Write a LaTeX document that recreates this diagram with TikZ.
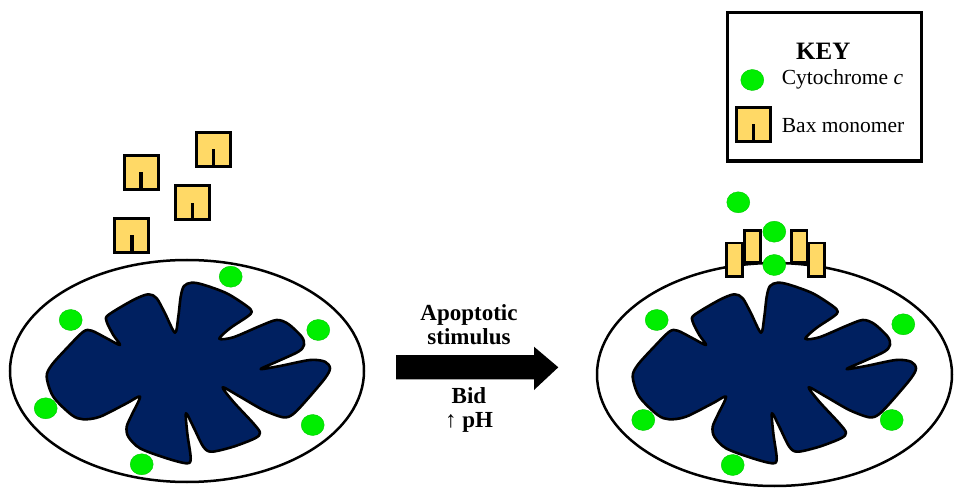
\documentclass[tikz,border=0pt]{standalone}
\usepackage{fontspec}
\setmainfont{Liberation Serif}
\usepackage{tikz}
\usetikzlibrary{calc,positioning}
\definecolor{matrixblue}{HTML}{002060}
\definecolor{cytgreen}{HTML}{00EE00}
\definecolor{baxyellow}{HTML}{FFD966}
\tikzstyle{membrane}    = [line width=2.5pt, draw=black, fill=white]
\tikzstyle{cristaefill} = [line width=2.6pt, draw=black, fill=matrixblue, line join=round]
\tikzstyle{cytc}        = [fill=cytgreen, draw=cytgreen!85!black, line width=0.4pt]
\tikzstyle{bax}         = [fill=baxyellow, draw=black, line width=2.8pt]
\tikzstyle{keytext}     = [font=\fontsize{21.5}{25}\selectfont, inner sep=0pt]
\tikzstyle{steptext}    = [font=\fontsize{23}{24}\selectfont\bfseries, align=center, inner sep=0pt]
% folded inner membrane
\newcommand{\cristae}{%
  \draw[cristaefill] plot[smooth cycle, tension=0.5] coordinates {
    (175,332.7) (178.3,316.7) (180.7,296.7) (184,286) (191.7,282.7) (203.3,284.7)
    (226.7,293.3) (246.7,306) (251.7,311.7) (247.3,316.7) (230,328.3) (219.3,338.7)
    (233.3,337.3) (260,326) (276.7,320) (288.3,324) (301.7,336.7) (304,345) (298.3,351.7)
    (276.7,361.7) (260.7,369)
    (280,366) (310,360) (325,361.7) (330,368.3) (325,378.3) (306.7,400) (293.3,414)
    (283.3,417.3) (263.3,410) (240,396.7) (222.7,387.3)
    (233.3,401.7) (253.3,423.3) (260,432.7) (255,438.3) (233.3,446.7) (211.7,451.7)
    (203.3,446.7) (193.3,426.7) (186,413.3)
    (187.3,433.3) (190.7,458.3) (186.7,463.3) (166.7,458.3) (140,448.3) (128.3,436.7)
    (126.7,426.7) (131.7,415) (140,396.7)
    (126.7,403.3) (100,416.7) (83.3,419.3) (71.7,415) (53.3,396.7) (46.7,376.7)
    (51.7,365) (66.7,348.3) (83.3,331.7) (91.7,330.7) (106.7,338.3) (120,345)
    (113.3,335) (106.7,321.7) (108.3,315) (133.3,300) (148.3,294.3) (156.7,298.3)
    (165,313.3)};}
% bax monomer, top left corner
\newcommand{\baxmono}[2]{%
  \draw[bax] (#1,#2) rectangle ++(34,34);
  \draw[line width=3.5pt] (#1+17,#2+34) -- ++(0,-17);}

\begin{document}
\begin{tikzpicture}[x=1pt,y=-1pt]
    \useasboundingbox (0,0) rectangle (954,489);

    % before
    \draw[membrane] (187,371) ellipse (177 and 111);
    \cristae
    \fill[cytc] (230.7,276.7) ellipse (11.5 and 10.5);
    \fill[cytc] (70.7,320) ellipse (11.5 and 10.5);
    \fill[cytc] (318.3,330) ellipse (11.5 and 10.5);
    \fill[cytc] (45.7,408.3) ellipse (11.5 and 10.5);
    \fill[cytc] (312.7,425) ellipse (11.5 and 10.5);
    \fill[cytc] (141.7,464.3) ellipse (11.5 and 10.5);

    \baxmono{124.2}{155.5}
    \baxmono{196.5}{132.2}
    \baxmono{175.5}{185.8}
    \baxmono{114.8}{218.5}

    % stimulus
    \fill (396,355) -- (534,355) -- (534,346.7) -- (558.3,367.3) -- (534,390) -- (534,379.3) -- (396,379.3) -- cycle;
    \node[steptext] (stim) at (469,325) {Apoptotic\\stimulus};
    \node[steptext] (bid) at (469,410) {Bid\\↑ pH};

    % after
    \draw[membrane] (774.5,374.5) ellipse (177.5 and 111.5);
    \begin{scope}[shift={(586,0)}]
        \cristae
    \end{scope}
    \draw[bax] (726.4,243.1) rectangle (742.6,276.9);
    \draw[bax] (744.7,230.7) rectangle (760.3,262.6);
    \draw[bax] (791.4,230.7) rectangle (806.9,262.6);
    \draw[bax] (808.7,243.1) rectangle (824.6,276.9);
    \fill[cytc] (738.3,202.3) ellipse (11.5 and 10.5);
    \fill[cytc] (774.3,231.7) ellipse (11.5 and 10.5);
    \fill[cytc] (774.3,265) ellipse (11.5 and 10.5);
    \fill[cytc] (656.7,320) ellipse (11.5 and 10.5);
    \fill[cytc] (903.3,324.3) ellipse (11.5 and 10.5);
    \fill[cytc] (643.3,420) ellipse (11.5 and 10.5);
    \fill[cytc] (891.7,420) ellipse (11.5 and 10.5);
    \fill[cytc] (732.7,465) ellipse (11.5 and 10.5);

    % key
    \draw[line width=3.3pt] (727.7,12.3) rectangle (921.7,161);
    \node[keytext, font=\fontsize{25}{25}\selectfont\bfseries, anchor=base] (key) at (823.3,60) {KEY};
    \fill[cytc] (752.3,80) ellipse (11.5 and 10.5);
    \node[keytext, anchor=base west] (keycyt) at (781.7,85) {Cytochrome \textit{c}};
    \baxmono{736.5}{107.5}
    \node[keytext, anchor=base west] (keybax) at (781.7,132.3) {Bax monomer};
\end{tikzpicture}
\end{document}
